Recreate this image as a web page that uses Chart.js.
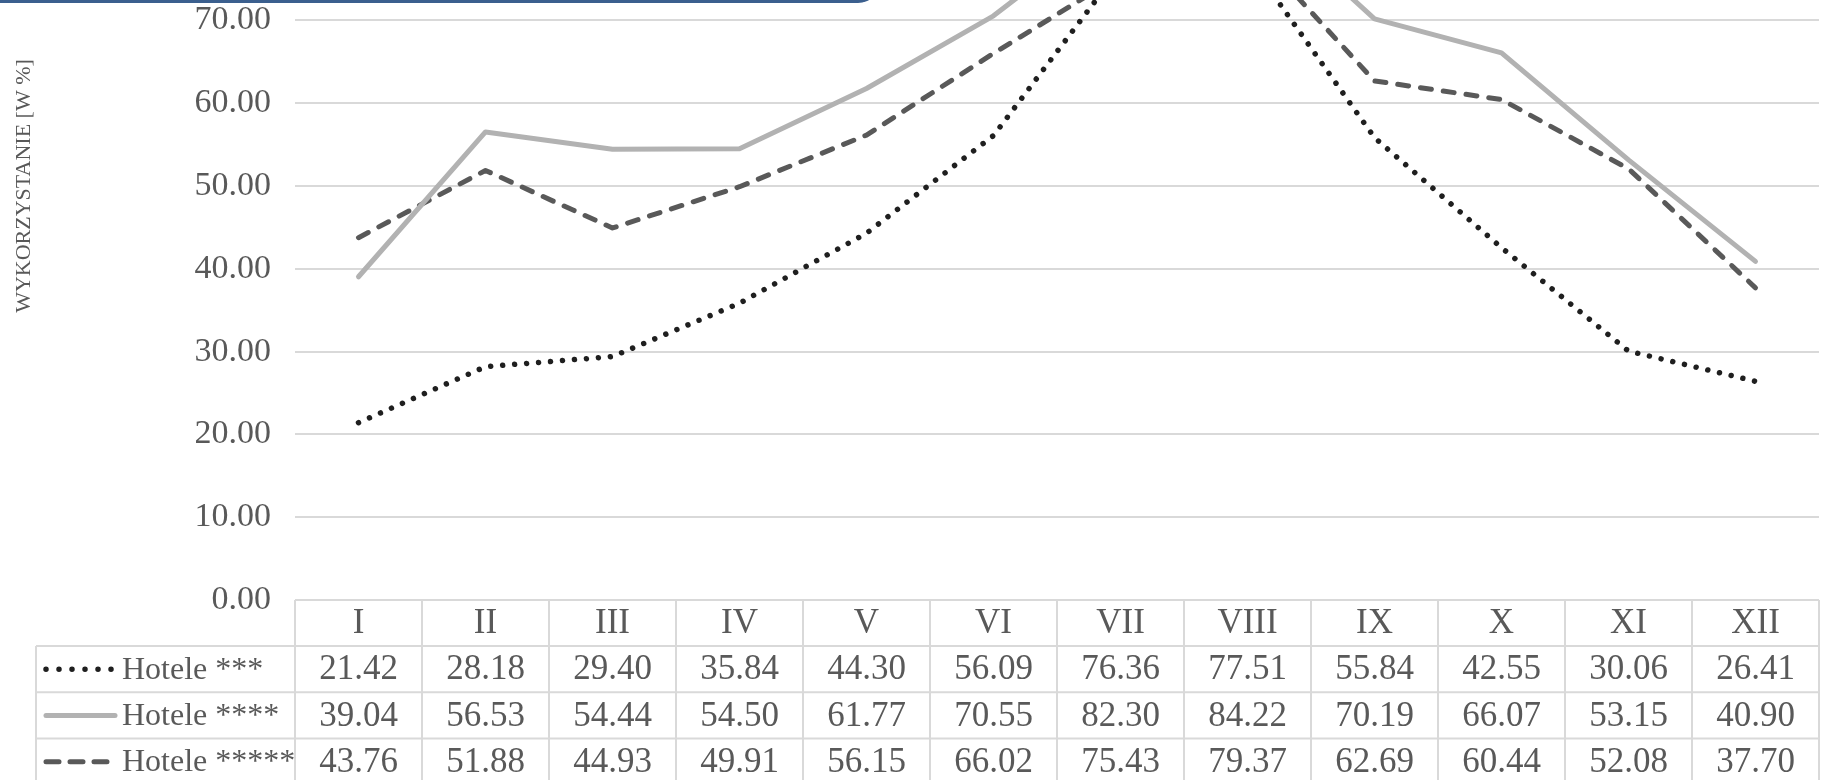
<!DOCTYPE html>
<html lang="pl">
<head>
<meta charset="utf-8">
<title>Wykorzystanie miejsc noclegowych w hotelach</title>
<script src="https://cdn.jsdelivr.net/npm/chart.js@4.4.1/dist/chart.umd.min.js"></script>
<style>
  html, body { margin: 0; padding: 0; width: 1821px; height: 780px; overflow: hidden; background: #ffffff; }
  #banner {
    position: absolute; left: -40px; top: -60px; width: 920px; height: 63px;
    background: #3b5f8e; border-bottom-right-radius: 22px; z-index: 2;
  }
  #wrap { position: absolute; left: 0; top: -228px; width: 1821px; height: 1048px; }
</style>
</head>
<body>
<div id="banner"></div>
<div id="wrap"><canvas id="chart"></canvas></div>
<script>
// Miesiące (nagłówki kolumn tabeli danych)
const months = ['I', 'II', 'III', 'IV', 'V', 'VI', 'VII', 'VIII', 'IX', 'X', 'XI', 'XII'];

// Wykorzystanie miejsc [%] wg kategorii hotelu
const hotele3 = [21.42, 28.18, 29.40, 35.84, 44.30, 56.09, 76.36, 77.51, 55.84, 42.55, 30.06, 26.41];
const hotele4 = [39.04, 56.53, 54.44, 54.50, 61.77, 70.55, 82.30, 84.22, 70.19, 66.07, 53.15, 40.90];
const hotele5 = [43.76, 51.88, 44.93, 49.91, 56.15, 66.02, 75.43, 79.37, 62.69, 60.44, 52.08, 37.70];

const seriesNames = ['Hotele ***', 'Hotele ****', 'Hotele *****'];
const yTitle = 'WYKORZYSTANIE [W %]';

const FONT = '"Liberation Serif", "DejaVu Serif", serif';
const TEXT = '#595959';
const GRID = '#d9d9d9';

const styles = [
  { color: '#1f1f1f', width: 5.5, dash: [0.001, 12], legendDash: [0.001, 13], cap: 'round' },
  { color: '#b2b2b2', width: 5, dash: [], legendDash: [], cap: 'round' },
  { color: '#595959', width: 5, dash: [11, 12], legendDash: [13, 11], cap: 'round' }
];

// Tabela danych pod wykresem: nagłówki miesięcy, klucze legendy i wartości
const dataTable = {
  id: 'dataTable',
  afterDraw(chart) {
    const ctx = chart.ctx;
    const xs = chart.scales.x;
    const area = chart.chartArea;
    const n = months.length;
    const colW = xs.width / n;
    const headH = 46;
    const rowH = 46.3;
    const legendLeft = 36;
    const top = area.bottom;
    const rows = chart.data.datasets.length;
    const bottom = top + headH + rows * rowH;

    ctx.save();
    ctx.strokeStyle = GRID;
    ctx.lineWidth = 2;
    ctx.beginPath();
    // linie poziome
    ctx.moveTo(area.left, top); ctx.lineTo(area.right, top);
    for (let r = 0; r <= rows; r++) {
      const y = top + headH + r * rowH;
      ctx.moveTo(legendLeft, y); ctx.lineTo(area.right, y);
    }
    // linie pionowe
    for (let i = 0; i <= n; i++) {
      const x = i < n ? xs.getPixelForValue(i) - colW / 2 : xs.getPixelForValue(n - 1) + colW / 2;
      ctx.moveTo(x, top); ctx.lineTo(x, bottom);
    }
    ctx.moveTo(legendLeft, top + headH); ctx.lineTo(legendLeft, bottom);
    ctx.stroke();

    ctx.fillStyle = TEXT;
    ctx.font = '35px ' + FONT;
    ctx.textAlign = 'center';
    ctx.textBaseline = 'middle';
    months.forEach((m, i) => ctx.fillText(m, xs.getPixelForValue(i), top + headH / 2 + 1));

    chart.data.datasets.forEach((ds, r) => {
      const cy = top + headH + r * rowH + rowH / 2 + 1;
      ctx.font = '35px ' + FONT;
      ctx.textAlign = 'center';
      ds.data.forEach((v, i) => {
        ctx.fillText(v.toFixed(2), xs.getPixelForValue(i), cy);
      });
      // klucz legendy
      const st = styles[r];
      ctx.save();
      ctx.strokeStyle = st.color;
      ctx.lineWidth = st.width;
      ctx.lineCap = st.cap;
      ctx.setLineDash(st.legendDash);
      ctx.beginPath();
      const lineEnd = r === 1 ? 115 : 112;
      ctx.moveTo(46, cy - 1); ctx.lineTo(lineEnd, cy - 1);
      ctx.stroke();
      ctx.restore();
      ctx.font = '32px ' + FONT;
      ctx.textAlign = 'left';
      ctx.fillText(ds.label, 122, cy);
    });
    ctx.restore();
  }
};

const datasets = [hotele3, hotele4, hotele5].map((vals, i) => ({
  label: seriesNames[i],
  data: vals,
  borderColor: styles[i].color,
  borderWidth: styles[i].width,
  borderDash: styles[i].dash,
  borderCapStyle: styles[i].cap,
  borderJoinStyle: 'round',
  pointRadius: 0,
  pointHoverRadius: 0,
  tension: 0,
  fill: false
}));

new Chart(document.getElementById('chart'), {
  type: 'line',
  data: { labels: months, datasets },
  plugins: [dataTable],
  options: {
    responsive: true,
    maintainAspectRatio: false,
    animation: false,
    events: [],
    layout: { padding: { top: 0, left: 0, right: 2, bottom: 220 } },
    plugins: { legend: { display: false }, tooltip: { enabled: false } },
    scales: {
      x: {
        display: false,
        offset: true
      },
      y: {
        min: 0,
        max: 100,
        ticks: {
          stepSize: 10,
          padding: 24,
          color: TEXT,
          font: { family: FONT, size: 34 },
          callback: v => Number(v).toFixed(2)
        },
        grid: { color: GRID, lineWidth: 2, drawTicks: false },
        border: { display: false },
        title: {
          display: true,
          text: yTitle,
          color: TEXT,
          font: { family: FONT, size: 22 },
          padding: { top: 11, bottom: 0 }
        },
        afterFit(scale) {
          scale.width = 295;
          scale.paddingTop = 0;
          scale.paddingBottom = 0;
        }
      }
    }
  }
});
</script>
</body>
</html>
